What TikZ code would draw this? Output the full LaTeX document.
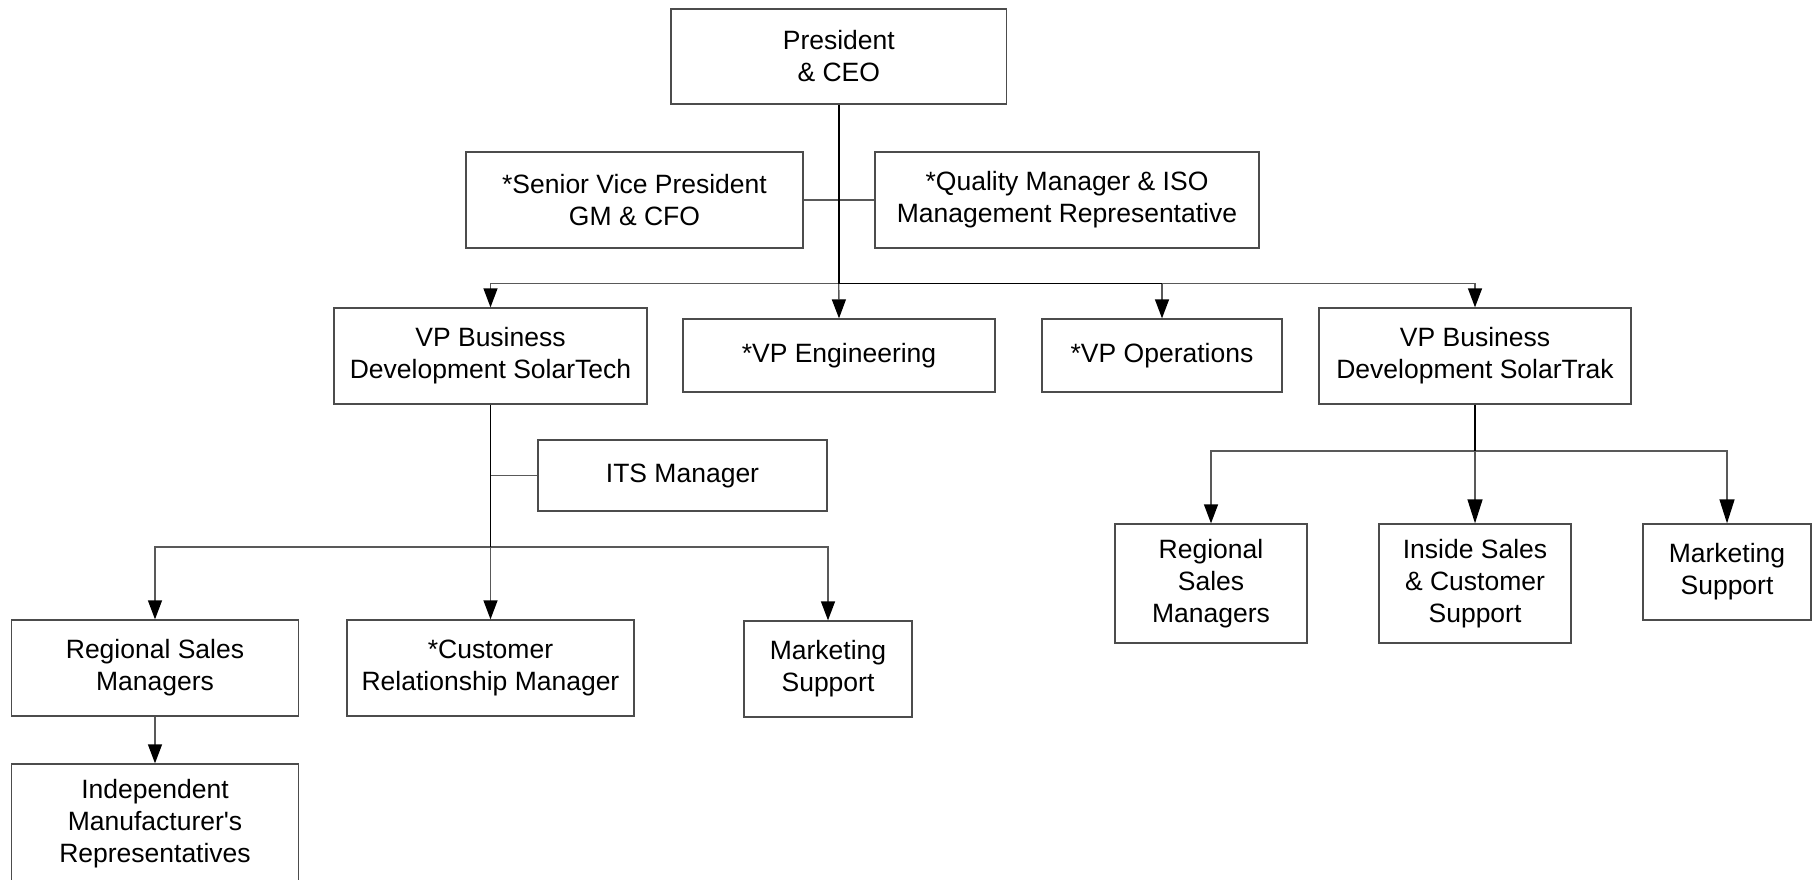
\documentclass[tikz,border=0pt]{standalone}
\usepackage{fontspec}
\setmainfont{Liberation Sans}[Ligatures=TeXOff]
\usetikzlibrary{arrows.meta}
\begin{document}
\begin{tikzpicture}[x=1pt,y=-1pt,
  box/.style={draw=black!70,line width=1.3pt,fill=white,inner sep=0pt,align=center,
    font=\fontsize{26.5}{32}\selectfont},
  link/.style={draw=black!65,line width=1.3pt},
  trunk/.style={draw=black,line width=1.6pt},
  tip/.style={-{Triangle[width=14pt,length=19pt,black]}},
  bigtip/.style={-{Triangle[width=15pt,length=24pt,black]}}]
\useasboundingbox (0,0) rectangle (1814,880);
\begin{scope}
\clip (0,0) rectangle (1814,880);
% top level
\node[box,minimum width=335.5pt,minimum height=95pt] (ceo) at (838.8,56.5) {President\\\& CEO};
\node[box,minimum width=337pt,minimum height=96pt] (svp) at (634.5,200) {*Senior Vice President\\GM \& CFO};
\node[box,minimum width=384pt,minimum height=96pt] (qm) at (1067,200) {*Quality Manager \& ISO\\Management Representative};
% vice presidents
\node[box,minimum width=313pt,minimum height=96pt] (vpst) at (490.5,356) {VP Business\\Development SolarTech};
\node[box,minimum width=312pt,minimum height=73pt] (vpeng) at (839,355.5) {*VP Engineering};
\node[box,minimum width=240pt,minimum height=73pt] (vpops) at (1162,355.5) {*VP Operations};
\node[box,minimum width=312pt,minimum height=96pt] (vptrak) at (1475,356) {VP Business\\Development SolarTrak};
% SolarTech branch
\node[box,minimum width=289pt,minimum height=71pt] (its) at (682.5,475.5) {ITS Manager};
\node[box,minimum width=287pt,minimum height=96pt] (rsm1) at (155,668) {Regional Sales\\Managers};
\node[box,minimum width=287pt,minimum height=96pt] (crm) at (490.5,668) {*Customer\\Relationship Manager};
\node[box,minimum width=168pt,minimum height=96pt] (mkt1) at (828,669) {Marketing\\Support};
\node[box,minimum width=287pt,minimum height=120pt] (imr) at (155,824) {Independent\\Manufacturer's\\Representatives};
% SolarTrak branch
\node[box,minimum width=192pt,minimum height=119pt] (rsm2) at (1211,583.5) {Regional\\Sales\\Managers};
\node[box,minimum width=192pt,minimum height=119pt] (isc) at (1475,583.5) {Inside Sales\\\& Customer\\Support};
\node[box,minimum width=168pt,minimum height=96pt] (mkt2) at (1727,572) {Marketing\\Support};

% junction points on the buses
\coordinate (jtop) at (ceo.south |- 0,283.5);
\coordinate (jops) at (vpops.north |- jtop);
\coordinate (jst) at (vpst.south |- 0,547);
\coordinate (jtr) at (vptrak.south |- 0,451);

% staff line beside the president
\draw[link] (svp.east) -- (qm.west);
% president to vice presidents
\draw[link,tip] (jtop) -| (vpst.north);
\draw[link,tip] (jtop) -| (vptrak.north);
\draw[link,tip] (jops) -- (vpops.north);
\draw[link,tip] (jtop) -- (vpeng.north);
\draw[trunk] (ceo.south) -- (jtop) -- (jops);
% SolarTech branch
\draw[link] (its.west) -- (vpst.south |- its.west);
\draw[link,tip] (jst) -| (rsm1.north);
\draw[link,tip] (jst) -| (mkt1.north);
\draw[link,tip] (jst) -- (crm.north);
\draw[trunk] (vpst.south) -- (jst);
\draw[link,tip] (rsm1.south) -- (imr.north);
% SolarTrak branch
\draw[link,tip] (jtr) -| (rsm2.north);
\draw[link,bigtip] (jtr) -| (mkt2.north);
\draw[link,bigtip] (jtr) -- (isc.north);
\draw[trunk] (vptrak.south) -- (jtr);
\end{scope}
\end{tikzpicture}
\end{document}
